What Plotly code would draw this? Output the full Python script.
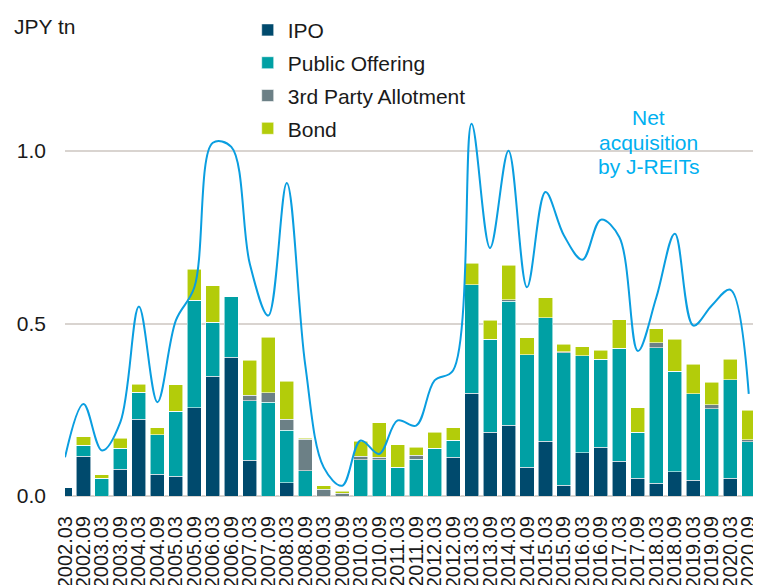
import plotly.graph_objects as go

periods = [
    "2002.03", "2002.09", "2003.03", "2003.09", "2004.03", "2004.09", "2005.03", "2005.09",
    "2006.03", "2006.09", "2007.03", "2007.09", "2008.03", "2008.09", "2009.03", "2009.09",
    "2010.03", "2010.09", "2011.03", "2011.09", "2012.03", "2012.09", "2013.03", "2013.09",
    "2014.03", "2014.09", "2015.03", "2015.09", "2016.03", "2016.09", "2017.03", "2017.09",
    "2018.03", "2018.09", "2019.03", "2019.09", "2020.03", "2020.09",
]

ipo = [0.024, 0.115, 0, 0.078, 0.223, 0.063, 0.057, 0.256, 0.347, 0.402, 0.104, 0, 0.038, 0,
       0, 0, 0, 0, 0, 0, 0, 0.112, 0.298, 0.185, 0.205, 0.084, 0.158, 0.031, 0.125, 0.141,
       0.101, 0.052, 0.037, 0.070, 0.045, 0, 0.052, 0]
public_offering = [0, 0.032, 0.052, 0.060, 0.078, 0.115, 0.189, 0.312, 0.157, 0.175, 0.172,
                   0.272, 0.153, 0.073, 0, 0, 0.105, 0.105, 0.084, 0.107, 0.139, 0.050, 0.314,
                   0.270, 0.360, 0.325, 0.358, 0.384, 0.281, 0.255, 0.327, 0.133, 0.393, 0.292,
                   0.252, 0.253, 0.285, 0.157]
third_party = [0, 0, 0, 0, 0, 0, 0, 0, 0, 0, 0.016, 0.028, 0.032, 0.092, 0.020, 0.008, 0.010,
               0.007, 0, 0.011, 0, 0, 0, 0, 0.004, 0, 0, 0.003, 0, 0, 0, 0, 0.014, 0, 0,
               0.011, 0, 0.006]
bond = [0, 0.025, 0.010, 0.029, 0.023, 0.020, 0.076, 0.089, 0.105, 0, 0.101, 0.160, 0.110,
        0.003, 0.010, 0.006, 0.043, 0.101, 0.065, 0.023, 0.046, 0.036, 0.062, 0.054, 0.100,
        0.050, 0.059, 0.022, 0.026, 0.026, 0.083, 0.071, 0.041, 0.092, 0.085, 0.066, 0.060,
        0.086]
net_acquisition = [0.112, 0.267, 0.132, 0.215, 0.549, 0.272, 0.509, 0.605, 1.024, 1.012,
                   0.673, 0.523, 0.907, 0.38, 0.083, 0.030, 0.161, 0.122, 0.219, 0.204,
                   0.335, 0.364, 1.079, 0.719, 1.001, 0.605, 0.881, 0.755, 0.685, 0.801,
                   0.750, 0.420, 0.576, 0.760, 0.494, 0.552, 0.598, 0.296]

FONT = "Liberation Sans, Arial, sans-serif"
x = list(range(len(periods)))

series = [
    ("IPO", ipo, "#004a6d"),
    ("Public Offering", public_offering, "#00a0a4"),
    ("3rd Party Allotment", third_party, "#6c8086"),
    ("Bond", bond, "#b3cc0a"),
]

fig = go.Figure()
for name, vals, color in series:
    fig.add_trace(go.Bar(
        x=x, y=vals, name=name, legendgroup=name,
        marker=dict(color=color, line=dict(color="rgba(255,255,255,0.7)", width=0.8)),
        width=0.76,
    ))

fig.add_trace(go.Scatter(
    x=x, y=net_acquisition, mode="lines", name="Net acquisition by J-REITs",
    line=dict(color="#0a9ee0", width=2, shape="spline", smoothing=1),
    showlegend=False,
))

# the page body adds an 8px offset, so margins are shifted accordingly
label_lines = ["Net", "acquisition", "by J-REITs"]
label_y = [1.097, 1.025, 0.955]
annotations = [
    dict(text="JPY tn", xref="paper", yref="paper", x=-0.077, y=1.133,
         xanchor="left", yanchor="middle", showarrow=False, font=dict(size=21)),
]
for txt, yy in zip(label_lines, label_y):
    annotations.append(dict(text=txt, xref="x", yref="y", x=31.6, y=yy,
                            xanchor="center", yanchor="middle", showarrow=False,
                            font=dict(size=21, color="#00b0f0")))

fig.update_layout(
    width=761, height=585,
    barmode="stack",
    plot_bgcolor="white", paper_bgcolor="white",
    font=dict(family=FONT, size=21, color="#1a1a1a"),
    margin=dict(l=57, r=11, t=74, b=97, autoexpand=False),
    showlegend=True,
    legend=dict(
        xref="container", yref="container", x=0.315, y=0.997,
        xanchor="left", yanchor="top",
        traceorder="grouped", tracegroupgap=2.5,
        font=dict(size=21), bgcolor="rgba(0,0,0,0)",
    ),
    annotations=annotations,
)

fig.update_xaxes(
    range=[0, 37.5], tickmode="array", tickvals=x, ticktext=periods,
    tickangle=-90, showgrid=False, showline=False, zeroline=False,
    ticks="", ticklabelstandoff=15, tickfont=dict(size=20),
)
fig.update_yaxes(
    range=[0, 1.2], tickvals=[0, 0.5, 1.0], tickformat=".1f",
    showgrid=True, gridcolor="#d9d4d0", gridwidth=2,
    zeroline=True, zerolinecolor="#d9d4d0", zerolinewidth=2,
    showline=False, ticks="", ticklabelstandoff=18, tickfont=dict(size=21),
)

fig.write_html("out.html")
